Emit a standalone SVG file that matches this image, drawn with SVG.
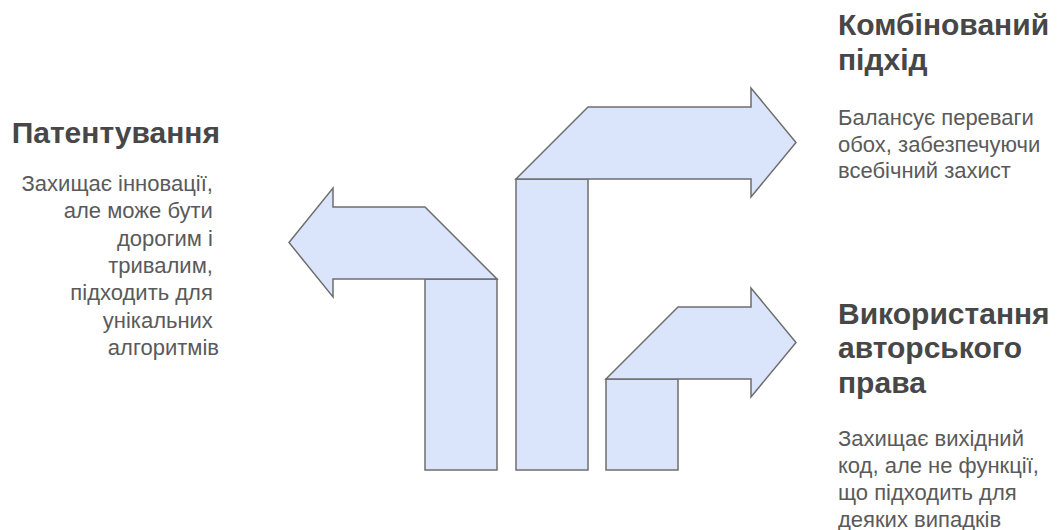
<svg xmlns="http://www.w3.org/2000/svg" width="1064" height="530" viewBox="0 0 1064 530">
<style>
.shape{fill:#dae5fc;stroke:#6e6e6e;stroke-width:1.5;stroke-linejoin:miter}
.title{font-family:"Liberation Sans",Arial,sans-serif;font-weight:bold;font-size:30px;fill:#474747}
.desc{font-family:"Liberation Sans",Arial,sans-serif;font-size:22px;fill:#5a5a5a}
</style>
<rect width="1064" height="530" fill="#ffffff"/>
<g id="connectors">
<g id="arrow-left">
<rect class="shape" x="425" y="279" width="72" height="191"/>
<polygon class="shape" points="289,242.5 333,188 333,207 425,207 497,279 333,279 333,297"/>
</g>
<g id="arrow-top">
<rect class="shape" x="516" y="179" width="72" height="291"/>
<polygon class="shape" points="516,179 588,107 751,107 751,88 796,142.5 751,197 751,179"/>
</g>
<g id="arrow-bottom">
<rect class="shape" x="606" y="379" width="72" height="91"/>
<polygon class="shape" points="606,379 678,307 751,307 751,288 796,342.5 751,397 751,379"/>
</g>
</g>
<g id="node-patent">
<text class="title" x="220" y="143" text-anchor="end">Патентування</text>
<text class="desc" text-anchor="end" x="219">
<tspan x="219" y="191">Захищає інновації,</tspan>
<tspan x="219" y="218.3">але може бути</tspan>
<tspan x="219" y="245.6">дорогим і</tspan>
<tspan x="219" y="272.9">тривалим,</tspan>
<tspan x="219" y="300.2">підходить для</tspan>
<tspan x="219" y="327.5">унікальних</tspan>
<tspan x="219" y="354.8">алгоритмів</tspan>
</text>
</g>
<g id="node-combined">
<text class="title">
<tspan x="838" y="35">Комбінований</tspan>
<tspan x="838" y="70">підхід</tspan>
</text>
<text class="desc">
<tspan x="838" y="125">Балансує переваги</tspan>
<tspan x="838" y="151.7">обох, забезпечуючи</tspan>
<tspan x="838" y="178.4">всебічний захист</tspan>
</text>
</g>
<g id="node-copyright">
<text class="title">
<tspan x="838" y="323.5">Використання</tspan>
<tspan x="838" y="358">авторського</tspan>
<tspan x="838" y="392.5">права</tspan>
</text>
<text class="desc">
<tspan x="838" y="446">Захищає вихідний</tspan>
<tspan x="838" y="473">код, але не функції,</tspan>
<tspan x="838" y="500">що підходить для</tspan>
<tspan x="838" y="527">деяких випадків</tspan>
</text>
</g>
</svg>
